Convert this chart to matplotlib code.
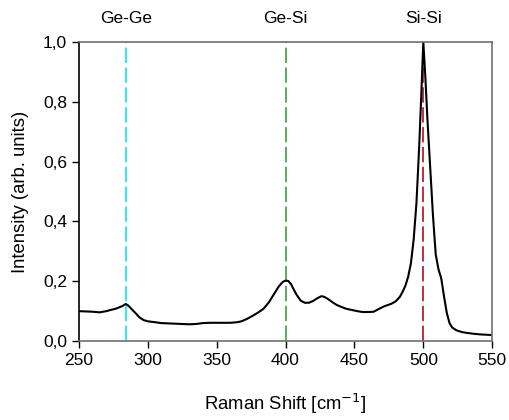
import matplotlib
matplotlib.use("Agg")
from matplotlib import pyplot as plt
from matplotlib.ticker import FuncFormatter, MultipleLocator

plt.rcParams['font.family'] = ['Liberation Sans', 'DejaVu Sans']

# Raman spectrum
shift = [250, 255, 260, 265, 270, 273, 276, 279, 282, 284, 286, 288, 291, 294, 297,
         300, 305, 310, 315, 320, 325, 330, 335, 340, 345, 350, 355, 360, 365, 368,
         372, 376, 380, 384, 388, 392, 395, 398, 400, 402, 404, 406, 408, 411, 414,
         417, 420, 423, 426, 428, 431, 434, 437, 440, 444, 448, 452, 456, 460, 464,
         468, 471, 474, 477, 480, 483, 485, 487, 489, 491, 493, 495, 497, 498.5, 500,
         501.5, 503, 505, 507, 509, 511, 513, 515, 517, 519, 521, 524, 528, 532, 537,
         542, 546, 550]
intensity = [0.100, 0.099, 0.098, 0.096, 0.100, 0.104, 0.107, 0.112, 0.118, 0.124,
             0.118, 0.108, 0.094, 0.079, 0.070, 0.066, 0.063, 0.060, 0.059, 0.058,
             0.057, 0.056, 0.057, 0.060, 0.061, 0.061, 0.061, 0.061, 0.063, 0.066,
             0.074, 0.084, 0.095, 0.108, 0.130, 0.160, 0.182, 0.198, 0.202, 0.201,
             0.190, 0.172, 0.155, 0.135, 0.128, 0.128, 0.134, 0.143, 0.150, 0.148,
             0.140, 0.130, 0.121, 0.115, 0.108, 0.104, 0.100, 0.097, 0.097, 0.098,
             0.108, 0.115, 0.120, 0.125, 0.133, 0.148, 0.165, 0.185, 0.215, 0.26,
             0.34, 0.46, 0.65, 0.82, 1.0, 0.88, 0.74, 0.58, 0.42, 0.29,
             0.24, 0.21, 0.15, 0.095, 0.06, 0.045, 0.036, 0.030, 0.027, 0.024,
             0.022, 0.021, 0.020]

peak_names = ['Ge-Ge', 'Ge-Si', 'Si-Si']
peak_pos = [284, 400, 500]
peak_colors = ['#22E5F0', '#4CA64C', '#B22230']

fig = plt.figure(figsize=(5.09, 4.2), dpi=100)
ax = fig.add_axes([0.155, 0.188, 0.812, 0.712])

for name, pos, col in zip(peak_names, peak_pos, peak_colors):
    ax.axvline(pos, color=col, lw=1.3, dashes=(8.5, 2.5), zorder=1)
    ax.text(pos, 1.077, name, transform=ax.get_xaxis_transform(),
            ha='center', va='center', fontsize=12.5)

ax.plot(shift, intensity, color='black', lw=1.5, zorder=2)

ax.set_xlim(250, 550)
ax.set_ylim(0, 1.0)
ax.xaxis.set_major_locator(MultipleLocator(50))
ax.yaxis.set_major_locator(MultipleLocator(0.2))
ax.yaxis.set_major_formatter(FuncFormatter(lambda v, p: f"{v:.1f}".replace('.', ',')))

ax.tick_params(direction='out', length=5, labelsize=12.5, width=1)
for side in ['top', 'right', 'bottom']:
    ax.spines[side].set_color('#707070')
ax.spines['left'].set_color('black')
for sp in ax.spines.values():
    sp.set_linewidth(1.2)

ax.set_xlabel('Raman Shift [cm$^{-1}$]', fontsize=13.3, labelpad=17)
ax.set_ylabel('Intensity (arb. units)', fontsize=13.3, labelpad=10)

fig.savefig('out.png', dpi=100)
